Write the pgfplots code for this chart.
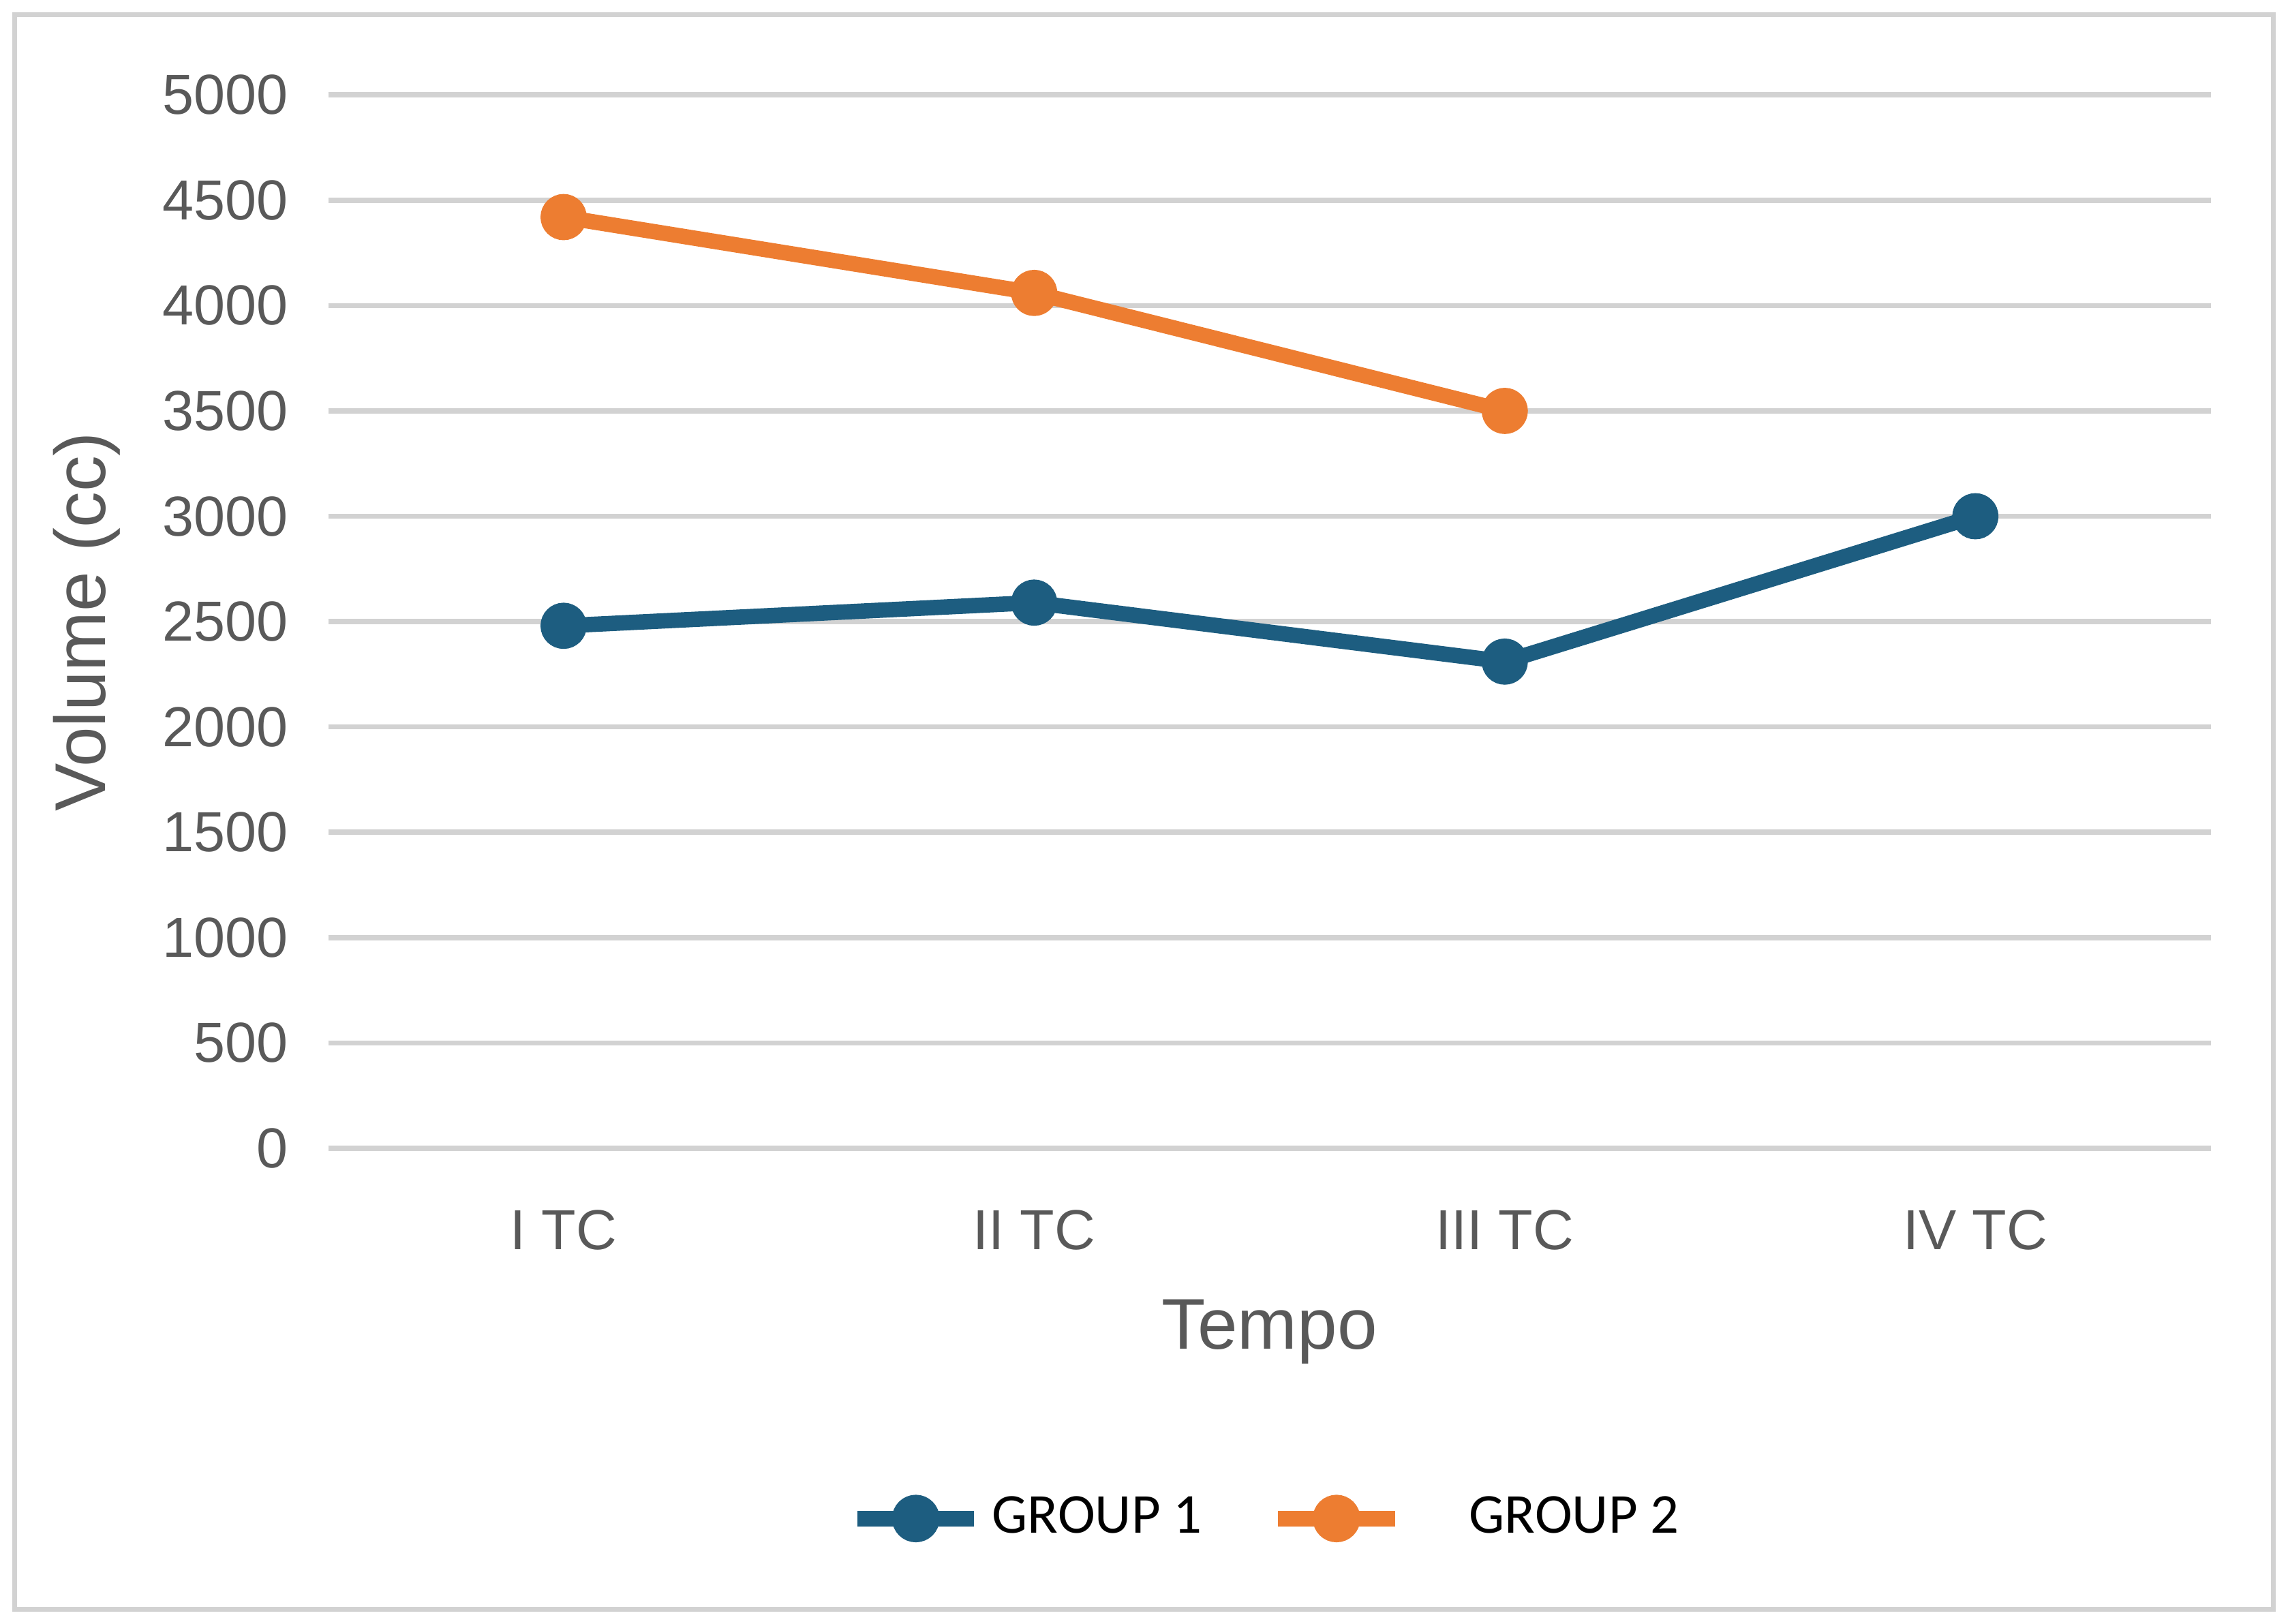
\documentclass[border=0pt]{standalone}
\usepackage{pgfplots}
\pgfplotsset{compat=1.18}
\usepackage{fontspec}
\setmainfont{Liberation Sans}
\newfontfamily\legfont{Carlito}
\definecolor{gblue}{HTML}{1D5D80}
\definecolor{gorange}{HTML}{ED7D31}
\definecolor{tickgray}{HTML}{595959}
\begin{document}
\begin{tikzpicture}
\path[use as bounding box] (0,0) rectangle (15.68,11.13);
\draw[gray!35, line width=1pt] (0.1,0.1) rectangle (15.58,11.03);
\begin{axis}[
  at={(2.25cm,3.26cm)}, anchor=south west,
  scale only axis, width=12.9cm, height=7.22cm,
  xmin=-0.5, xmax=3.5, ymin=0, ymax=5000,
  xtick=data, xticklabels={I TC, II TC, III TC, IV TC},
  ytick={0,500,...,5000},
  ymajorgrids, grid style={gray!35, line width=1pt},
  axis line style={draw=none}, major tick length=0pt,
  tick label style={font=\fontsize{11}{13}\selectfont, text=tickgray},
  /pgf/number format/assume math mode=true,
  /pgf/number format/1000 sep={},
  yticklabel style={xshift=-0.15cm},
  xticklabel style={yshift=-0.3cm},
  xlabel={Tempo}, ylabel={Volume (cc)},
  label style={font=\fontsize{14}{16}\selectfont, text=tickgray},
  xlabel style={yshift=-0.1cm},
  ylabel style={yshift=0.05cm},
  legend style={at={(0.5,-0.31)}, anchor=north, draw=none, legend columns=2,
    font=\legfont\fontsize{11}{13}\selectfont,
    /tikz/every even column/.append style={column sep=0.4cm}},
  legend image code/.code={\draw[#1, line width=3pt] (-0.4cm,0cm) -- (0.4cm,0cm); \fill[#1] (0cm,0cm) circle (0.11cm);},
]
\addplot[gblue, line width=3pt, mark=*, mark size=3pt] coordinates {(0,2480) (1,2590) (2,2310) (3,3000)};
\addlegendentry{GROUP 1}
\addplot[gorange, line width=3pt, mark=*, mark size=3pt] coordinates {(0,4420) (1,4060) (2,3500)};
\addlegendentry{\quad GROUP 2}
\end{axis}
\end{tikzpicture}
\end{document}
